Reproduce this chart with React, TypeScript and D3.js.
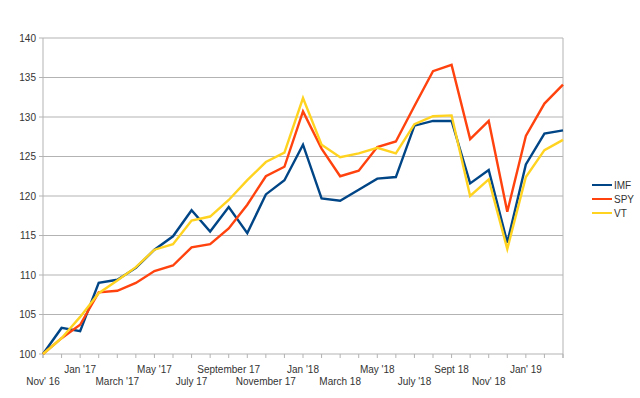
import React from "react";
import * as d3 from "d3";

const months = [
  "Nov 16", "Dec 16", "Jan '17", "Feb 17", "March '17", "Apr 17", "May '17", "Jun 17",
  "July 17", "Aug 17", "September 17", "Oct 17", "November 17", "Dec 17", "Jan '18",
  "Feb 18", "March 18", "Apr 18", "May '18", "Jun 18", "July '18", "Aug 18", "Sept 18",
  "Oct 18", "Nov' 18", "Dec 18", "Jan' 19", "Feb 19", "Mar 19",
];
const shownLabels = [
  "Nov' 16", "", "Jan '17", "", "March '17", "", "May '17", "", "July 17", "", "September 17", "",
  "November 17", "", "Jan '18", "", "March 18", "", "May '18", "", "July '18", "", "Sept 18", "",
  "Nov' 18", "", "Jan' 19", "", "",
];
const imf = [100, 103.3, 102.9, 109.0, 109.4, 110.9, 113.2, 114.9, 118.2, 115.5, 118.6, 115.3, 120.2, 122.0, 126.5,
  119.7, 119.4, 120.8, 122.2, 122.4, 128.9, 129.5, 129.5, 121.6, 123.3, 114.1, 124.0, 127.9, 128.3];
const spy = [100, 102.0, 103.7, 107.8, 108.0, 109.0, 110.5, 111.2, 113.5, 113.9, 115.9, 118.9, 122.5, 123.7, 130.7,
  126.0, 122.5, 123.2, 126.2, 126.9, 131.4, 135.8, 136.6, 127.2, 129.5, 118.0, 127.6, 131.7, 134.1];
const vt = [100, 102.0, 104.7, 107.7, 109.3, 111.0, 113.2, 113.9, 116.9, 117.4, 119.5, 122.0, 124.3, 125.5, 132.4,
  126.5, 124.9, 125.4, 126.1, 125.4, 129.1, 130.1, 130.2, 120.0, 122.1, 113.3, 122.4, 125.8, 127.1];
const yTicks = [100, 105, 110, 115, 120, 125, 130, 135, 140];

const seriesNames = ["IMF", "SPY", "VT"];
const seriesColors = ["#004586", "#ff420e", "#ffd320"];
const seriesData = [imf, spy, vt];

export default function App() {
  const W = 640, H = 398;
  const left = 43, right = 563, top = 38, bottom = 354;
  const x = d3.scaleLinear().domain([0, months.length - 1]).range([left, right]);
  const y = d3.scaleLinear().domain([100, 140]).range([bottom, top]);
  const line = d3.line<number>().x((_, i) => x(i)).y((d) => y(d));
  const font = "'Liberation Sans', Arial, sans-serif";
  const textColor = "#333333";
  const grid = "#b3b3b3";

  return (
    <svg width={W} height={H} style={{ position: "absolute", left: 0, top: 0, background: "#fff" }}>
      <rect x={0} y={0} width={W} height={H} fill="#fff" />
      {yTicks.map((t) => (
        <g key={t}>
          <line x1={left} x2={right} y1={y(t)} y2={y(t)} stroke={grid} strokeWidth={1} />
          <line x1={left - 4} x2={left} y1={y(t)} y2={y(t)} stroke={grid} strokeWidth={1} />
          <text x={left - 7} y={y(t) + 3.5} textAnchor="end" fontFamily={font} fontSize={10} fill={textColor}>
            {t}
          </text>
        </g>
      ))}
      <line x1={left} x2={left} y1={top} y2={bottom + 4} stroke={grid} strokeWidth={1} />
      <line x1={right} x2={right} y1={top} y2={bottom + 4} stroke={grid} strokeWidth={1} />
      {months.map((m, i) => (
        <line key={m} x1={x(i)} x2={x(i)} y1={bottom} y2={bottom + 4} stroke={grid} strokeWidth={1} />
      ))}
      {shownLabels.map((l, i) =>
        l ? (
          <text
            key={i}
            x={x(i)}
            y={i % 4 === 0 ? 385 : 373}
            textAnchor="middle"
            fontFamily={font}
            fontSize={10}
            fill={textColor}
          >
            {l}
          </text>
        ) : null
      )}
      {seriesData.map((d, k) => (
        <path
          key={k}
          d={line(d) || ""}
          fill="none"
          stroke={seriesColors[k]}
          strokeWidth={2.4}
          strokeLinejoin="miter"
        />
      ))}
      {seriesNames.map((n, k) => (
        <g key={n}>
          <line x1={592} x2={612} y1={185 + k * 14} y2={185 + k * 14} stroke={seriesColors[k]} strokeWidth={2} />
          <text x={614} y={185 + k * 14 + 3.5} fontFamily={font} fontSize={10} fill={textColor}>
            {n}
          </text>
        </g>
      ))}
    </svg>
  );
}
